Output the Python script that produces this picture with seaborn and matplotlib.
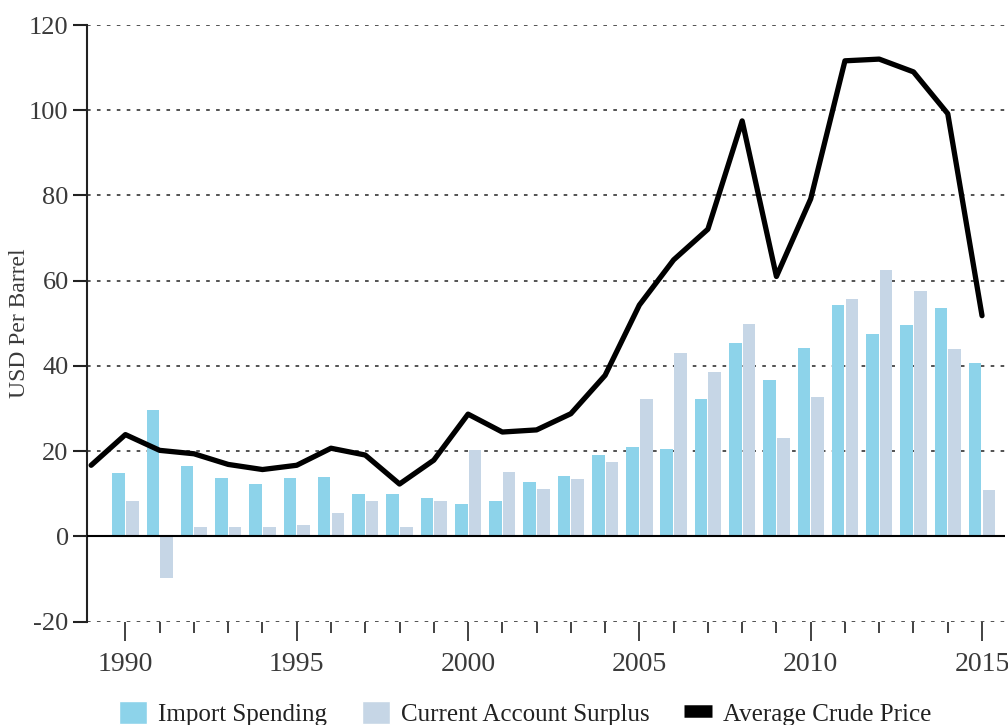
import numpy as np
import pandas as pd
import seaborn as sns
import matplotlib.pyplot as plt
from matplotlib.ticker import MultipleLocator, FormatStrFormatter
from matplotlib.patches import Patch
from matplotlib.lines import Line2D

# bar data, one value per year
years = list(range(1990, 2016))
import_spending = [14.8, 29.6, 16.5, 13.6, 12.4, 13.6, 14.0, 9.9, 9.9, 9.1,
                   7.5, 8.3, 12.8, 14.1, 19.0, 21.0, 20.6, 32.2, 45.5, 36.7,
                   44.3, 54.4, 47.5, 49.5, 53.6, 40.7]
current_account = [8.3, -9.7, 2.3, 2.3, 2.3, 2.7, 5.5, 8.3, 2.3, 8.3,
                   20.2, 15.2, 11.2, 13.4, 17.4, 32.2, 43.1, 38.7, 49.9, 23.0,
                   32.7, 55.6, 62.5, 57.6, 44.0, 11.0]

# crude price line starts one year earlier
price_years = list(range(1989, 2016))
crude_price = [16.7, 23.9, 20.2, 19.4, 16.9, 15.7, 16.7, 20.7, 19.1, 12.3,
               17.9, 28.7, 24.5, 25.0, 28.8, 37.8, 54.3, 64.9, 72.1, 97.5,
               61.0, 79.2, 111.6, 112.0, 109.0, 99.2, 51.8]

series_names = ["Import Spending", "Current Account Surplus"]
line_name = "Average Crude Price"
y_ticks = [-20, 0, 20, 40, 60, 80, 100, 120]

colors = {"Import Spending": "#8dd3ea", "Current Account Surplus": "#c6d6e6"}
text_color = "#3a3a3a"

df = pd.DataFrame({
    "year": years * 2,
    "value": import_spending + current_account,
    "series": [series_names[0]] * len(years) + [series_names[1]] * len(years),
})

sns.set_style("ticks")
plt.rcParams["font.family"] = ["Liberation Serif", "DejaVu Serif"]
plt.rcParams["axes.unicode_minus"] = False

fig, ax = plt.subplots(figsize=(10.08, 7.25), dpi=100)
fig.subplots_adjust(left=0.086, right=0.997, bottom=0.1425, top=0.9655)

sns.barplot(data=df, x="year", y="value", hue="series", hue_order=series_names,
            palette=colors, native_scale=True, width=0.8, gap=0.08,
            saturation=1, linewidth=0, errorbar=None, legend=False, ax=ax)
sns.lineplot(x=price_years, y=crude_price, color="black", linewidth=3.8,
             ax=ax, zorder=4)
ax.axhline(0, color="black", linewidth=1.5, zorder=3)

ax.set_xlim(1988.87, 2015.67)
ax.set_ylim(-20, 120)
ax.set_yticks(y_ticks)
ax.xaxis.set_major_locator(MultipleLocator(5))
ax.set_xticks(years, minor=True)
ax.xaxis.set_major_formatter(FormatStrFormatter("%d"))

ax.set_axisbelow(True)
ax.yaxis.grid(True, linestyle=(0, (2, 3.5)), color="#444444", linewidth=1.3)
ax.xaxis.grid(False)

for side in ["top", "right", "bottom"]:
    ax.spines[side].set_visible(False)
ax.spines["left"].set_color("#222222")
ax.spines["left"].set_linewidth(1.5)

ax.tick_params(axis="y", length=10, width=1.5, color="#222222",
               labelsize=19, labelcolor=text_color, pad=3)
ax.tick_params(axis="x", which="major", length=14, width=1.2, color="#222222",
               labelsize=20, labelcolor=text_color, pad=8)
ax.tick_params(axis="x", which="minor", length=8, width=1.2, color="#222222")

ax.set_xlabel("")
ax.set_ylabel("USD Per Barrel", fontsize=17, color=text_color)
ax.yaxis.set_label_coords(-0.062, 0.5)

handles = [Patch(facecolor=colors[series_names[0]]),
           Patch(facecolor=colors[series_names[1]]),
           Line2D([0], [0], color="black", linewidth=9, solid_capstyle="butt")]
fig.legend(handles, series_names + [line_name], loc="upper left",
           bbox_to_anchor=(0.106, 0.05), ncol=3, frameon=False,
           fontsize=18, handlelength=1.1, handleheight=1.0,
           handletextpad=0.45, columnspacing=1.4, borderpad=0,
           labelcolor="#222222")

plt.savefig("out.png", dpi=100)
